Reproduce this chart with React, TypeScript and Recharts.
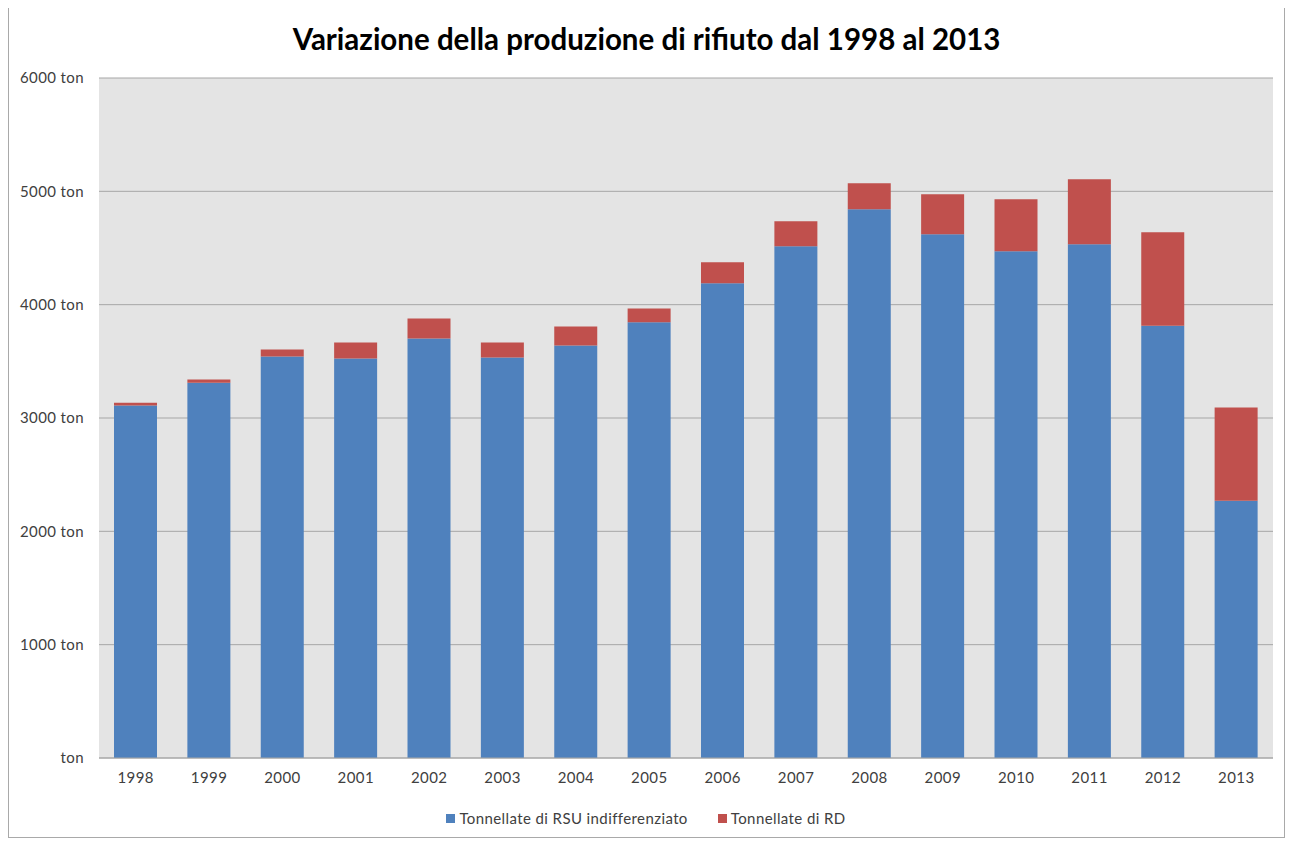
import { BarChart, Bar, XAxis, YAxis, CartesianGrid, Legend } from 'recharts'

const years = ['1998', '1999', '2000', '2001', '2002', '2003', '2004', '2005', '2006', '2007', '2008', '2009', '2010', '2011', '2012', '2013']
const rsuIndifferenziato = [3110, 3312, 3543, 3525, 3702, 3534, 3640, 3844, 4190, 4515, 4842, 4621, 4471, 4533, 3815, 2270]
const raccoltaDifferenziata = [25, 28, 62, 142, 177, 133, 168, 123, 184, 221, 230, 354, 460, 574, 824, 823]
const yTicks = [0, 1000, 2000, 3000, 4000, 5000, 6000]

const BLUE = '#4f81bd'
const RED = '#c0504d'
const FONT = 'Lato, "Open Sans", sans-serif'

const data = years.map((anno, i) => ({
  anno,
  rsu: rsuIndifferenziato[i],
  rd: raccoltaDifferenziata[i],
}))

const legendItems = [
  { label: 'Tonnellate di RSU indifferenziato', color: BLUE },
  { label: 'Tonnellate di RD', color: RED },
]

function LegendContent() {
  return (
    <div style={{ height: 20, display: 'flex', justifyContent: 'center', alignItems: 'center', gap: 30, fontFamily: FONT, fontSize: 15, letterSpacing: 0.4, color: '#404040', paddingLeft: 10 }}>
      {legendItems.map(item => (
        <div key={item.label} style={{ display: 'flex', alignItems: 'center', gap: 4 }}>
          <span style={{ width: 9, height: 9, background: item.color, display: 'inline-block' }} />
          <span>{item.label}</span>
        </div>
      ))}
    </div>
  )
}

const tickStyle = { fontSize: 15, fill: '#404040', fontFamily: FONT, letterSpacing: 0.4 }

export default function App() {
  return (
    <div style={{ position: 'relative', width: 1275, height: 830, border: '1px solid #a9a9a9', marginTop: -2, background: '#fff' }}>
      <div style={{ position: 'absolute', top: 14, left: 0, width: '100%', textAlign: 'center', fontFamily: FONT, fontWeight: 700, fontSize: 29.5, color: '#000' }}>
        Variazione della produzione di rifiuto dal 1998 al 2013
      </div>
      <BarChart width={1275} height={830} data={data} margin={{ top: 71, right: 11, bottom: 9, left: 0 }}>
        <CartesianGrid vertical={false} stroke="#a6a6a6" fill="#e4e4e4" />
        <XAxis
          dataKey="anno"
          height={50}
          tickLine={false}
          tickSize={0}
          tickMargin={14}
          axisLine={{ stroke: '#a6a6a6' }}
          tick={tickStyle}
        />
        <YAxis
          width={90}
          domain={[0, 6000]}
          ticks={yTicks}
          tickFormatter={(v: number) => (v === 0 ? 'ton' : `${v} ton`)}
          axisLine={false}
          tickLine={false}
          tickSize={0}
          tickMargin={15}
          tick={tickStyle}
        />
        <Legend verticalAlign="bottom" height={20} content={<LegendContent />} />
        <Bar dataKey="rsu" name="Tonnellate di RSU indifferenziato" stackId="a" fill={BLUE} barSize={43} isAnimationActive={false} />
        <Bar dataKey="rd" name="Tonnellate di RD" stackId="a" fill={RED} barSize={43} isAnimationActive={false} />
      </BarChart>
    </div>
  )
}
